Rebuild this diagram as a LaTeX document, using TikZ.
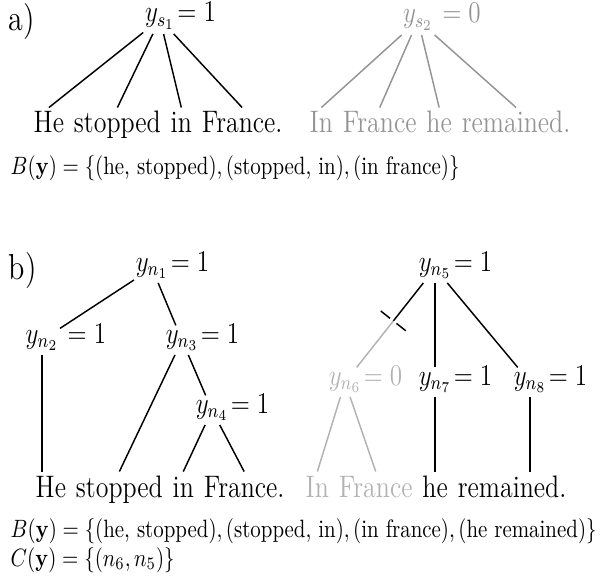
\documentclass[tikz,border=0pt]{standalone}
\usepackage{amsmath,amssymb}
\usepackage{xcolor}
\usepackage{tikz}
\usetikzlibrary{positioning, calc}

\definecolor{dropped}{gray}{0.58}
\definecolor{cutoff}{gray}{0.70}

\begin{document}
\begin{tikzpicture}[x=0.4785pt, y=-0.4785pt, line width=0.7pt,
        every node/.style={yscale=1.2},
        word/.style={inner sep=0pt, font=\fontsize{12.4}{15}\selectfont, text height=9.8pt, text depth=2pt},
        var/.style={inner xsep=0.5pt, inner ysep=1.5pt, font=\large},
        val/.style={inner sep=0pt, font=\large},
        node distance=4.05pt]
        \useasboundingbox (0,0) rectangle (604,577);

        % a) one sentence per node
        \node[font=\Large, inner sep=0pt, anchor=base west] (lbla) at (8,31) {a)};
        \node[var, anchor=base] (s1) at (160,22) {$y_{s_1}$};
        \node[val, base right=0pt of s1] (s1v) {$=1$};
        \node[var, dropped, anchor=base] (s2) at (418,23) {$y_{s_2}$};
        \node[val, dropped, base right=0pt of s2] (s2v) {$\;=0$};

        \node[word, anchor=base west] (a1) at (33,133) {He};
        \node[word, base right=of a1] (a2) {stopped};
        \node[word, base right=of a2] (a3) {in};
        \node[word, base right=of a3] (a4) {France.};
        \node[word, dropped, anchor=base west] (a5) at (309,133) {In};
        \node[word, dropped, base right=of a5] (a6) {France};
        \node[word, dropped, base right=of a6] (a7) {he};
        \node[word, dropped, base right=of a7] (a8) {remained.};

        \foreach \w in {a1,a2,a3,a4}
            \draw (s1) -- (\w.north);
        \foreach \w in {a5,a6,a7,a8}
            \draw[dropped] (s2) -- (\w.north);

        \node[inner sep=0pt, anchor=base west] (bonds) at (10,175)
            {$B(\mathbf{y}) = \{(\text{he, stopped}), (\text{stopped, in}), (\text{in france})\}$};

        % b) one node per phrase
        \node[font=\Large, inner sep=0pt, anchor=base west] (lblb) at (8,279) {b)};
        \node[var, anchor=base] (n1) at (152,271) {$y_{n_1}$};
        \node[val, base right=0pt of n1] (n1v) {$=1$};
        \node[var, anchor=base] (n2) at (42,343) {$y_{n_2}$};
        \node[val, base right=0pt of n2] (n2v) {$\;=1$};
        \node[var, anchor=base] (n3) at (182,343) {$y_{n_3}$};
        \node[val, base right=0pt of n3] (n3v) {$=1$};
        \node[var, anchor=base] (n4) at (212,413) {$y_{n_4}$};
        \node[val, base right=0pt of n4] (n4v) {$=1$};
        \node[var, anchor=base] (n5) at (435,271) {$y_{n_5}$};
        \node[val, base right=0pt of n5] (n5v) {$=1$};
        \node[var, cutoff, anchor=base] (n6) at (345,385) {$y_{n_6}$};
        \node[val, cutoff, base right=0pt of n6] (n6v) {$=0$};
        \node[var, anchor=base] (n7) at (435,385) {$y_{n_7}$};
        \node[val, base right=0pt of n7] (n7v) {$=1$};
        \node[var, anchor=base] (n8) at (530,385) {$y_{n_8}$};
        \node[val, base right=0pt of n8] (n8v) {$=1$};

        \node[word, anchor=base west] (b1) at (35,497) {He};
        \node[word, base right=of b1] (b2) {stopped};
        \node[word, base right=of b2] (b3) {in};
        \node[word, base right=of b3] (b4) {France.};
        \node[word, cutoff, anchor=base west] (c1) at (305,497) {In};
        \node[word, cutoff, base right=of c1] (c2) {France};
        \node[word, base right=of c2] (c3) {he};
        \node[word, base right=of c3] (c4) {remained.};

        \draw (n1) -- (n2);
        \draw (n1) -- (n3);
        \draw (n2) -- (n2 |- b1.north);
        \draw (n3) -- (b2.north);
        \draw (n3) -- (n4);
        \draw (n4) -- (b3.north);
        \draw (n4) -- (b4.north);

        \path (n5) -- (n6) coordinate[pos=0.45] (cut);
        \draw (n5) -- (cut);
        \draw[cutoff] (cut) -- (n6);
        \draw[dash pattern=on 5.7pt off 3.9pt]
            ($(cut)!7.7pt!90:(n5)$) -- ($(cut)!7.7pt!-90:(n5)$);
        \draw (n5) -- (n7);
        \draw (n5) -- (n8);
        \draw[cutoff] (n6) -- (c1.north);
        \draw[cutoff] (n6) -- (c2.north);
        \draw (n7) -- (n7 |- c3.north);
        \draw (n8) -- (n8 |- c4.north);

        \node[inner sep=0pt, anchor=base west] (bondsb) at (10,537)
            {$B(\mathbf{y}) = \{(\text{he, stopped}), (\text{stopped, in}), (\text{in france}), (\text{he remained})\}$};
        \node[inner sep=0pt, anchor=base west] (cuts) at (10,566)
            {$C(\mathbf{y}) = \{(n_6, n_5)\}$};
\end{tikzpicture}
\end{document}
